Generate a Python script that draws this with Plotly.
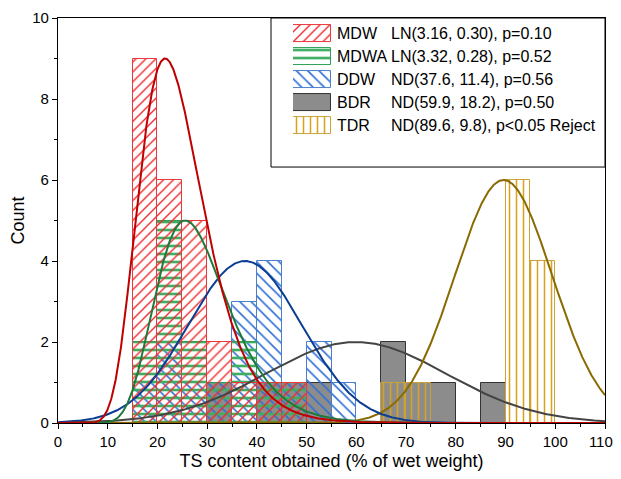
import numpy as np
import plotly.graph_objects as go

# ---------------- data ----------------
bin_centers = [17.5, 22.5, 27.5, 32.5, 37.5, 42.5, 47.5, 52.5, 57.5,
               62.5, 67.5, 72.5, 77.5, 82.5, 87.5, 92.5, 97.5]
bin_width = 5

mdw_counts  = [9, 6, 5, 2, 1, 1, 1, 0, 0, 0, 0, 0, 0, 0, 0, 0, 0]
mdwa_counts = [2, 5, 2, 1, 2, 1, 1, 0, 0, 0, 0, 0, 0, 0, 0, 0, 0]
ddw_counts  = [1, 2, 1, 1, 3, 4, 1, 2, 1, 0, 0, 0, 0, 0, 0, 0, 0]
bdr_counts  = [0, 0, 0, 1, 0, 1, 1, 1, 0, 0, 2, 1, 1, 0, 1, 0, 0]
tdr_counts  = [0, 0, 0, 0, 0, 0, 0, 0, 0, 0, 1, 1, 0, 0, 0, 6, 4]

series_names = ["MDW", "MDWA", "DDW", "BDR", "TDR"]
series_desc = ["LN(3.16, 0.30), p=0.10", "LN(3.32, 0.28), p=0.52",
               "ND(37.6, 11.4), p=0.56", "ND(59.9, 18.2), p=0.50",
               "ND(89.6, 9.8), p<0.05 Reject"]
fit_type = ["LN", "LN", "ND", "ND", "ND"]
fit_p1 = [3.16, 3.32, 37.6, 59.9, 89.6]
fit_p2 = [0.30, 0.28, 11.4, 18.2, 9.8]
curve_peak = [9.0, 5.0, 4.0, 2.0, 6.0]   # peak heights of the fitted curves

x_ticks = [0, 10, 20, 30, 40, 50, 60, 70, 80, 90, 100, 110]
x_tick_labels = ["0", "10", "20", "30", "40", "50", "60", "70", "80", "90",
                 "100", "110\u00a0\u00a0"]
y_ticks = [0, 2, 4, 6, 8, 10]

# ---------------- styles ----------------
hatch_color = ["#EE2A2E", "#3DAE62", "#2F6FD6", "#8C8C8C", "#D9A21C"]
edge_color  = ["#E8383B", "#2E9E55", "#4A7FCC", "#333333", "#C9A23A"]
curve_color = ["#C00000", "#1E7A3A", "#0B3D91", "#444444", "#8A6A00"]
pattern_shape = ["/", "-", "\\", "", "|"]
pattern_size  = [7, 8, 8, 8, 7]
pattern_solid = [0.2, 0.33, 0.2, 0.3, 0.22]
counts = [mdw_counts, mdwa_counts, ddw_counts, bdr_counts, tdr_counts]

FONT = "Liberation Sans, Arial, sans-serif"

def bar_marker(i):
    if pattern_shape[i] == "":
        return dict(color=hatch_color[i], line=dict(color=edge_color[i], width=1))
    return dict(color="rgba(0,0,0,0)",
                line=dict(color=edge_color[i], width=1),
                pattern=dict(shape=pattern_shape[i], fgcolor=hatch_color[i],
                             bgcolor="rgba(0,0,0,0)", size=pattern_size[i],
                             solidity=pattern_solid[i], fillmode="replace"))

fig = go.Figure()

# histogram bars: gray first (bottom), red last (top)
draw_order = [3, 4, 2, 1, 0]
for i in draw_order:
    y = [c if c > 0 else None for c in counts[i]]
    fig.add_trace(go.Bar(x=bin_centers, y=y, width=bin_width,
                         marker=bar_marker(i), name=series_names[i],
                         showlegend=False, hoverinfo="x+y"))

# fitted curves
xc = np.linspace(0.05, 110, 1200)
for i in [3, 4, 2, 1, 0]:
    if fit_type[i] == "LN":
        pdf = np.exp(-(np.log(xc) - fit_p1[i]) ** 2 / (2 * fit_p2[i] ** 2)) / xc
    else:
        pdf = np.exp(-(xc - fit_p1[i]) ** 2 / (2 * fit_p2[i] ** 2))
    yc = pdf / pdf.max() * curve_peak[i]
    fig.add_trace(go.Scatter(x=xc, y=yc, mode="lines",
                             line=dict(color=curve_color[i], width=2),
                             showlegend=False, hoverinfo="skip"))

# ---------------- legend (custom, patterned swatches) ----------------
rows = list(range(len(series_names)))
for i in rows:
    fig.add_trace(go.Bar(x=[1], y=[i], base=0, orientation="h", width=0.74,
                         marker=bar_marker(i), xaxis="x2", yaxis="y2",
                         showlegend=False, hoverinfo="skip"))
    fig.add_annotation(x=0.5064, y=i, xref="paper", yref="y2", text=series_names[i],
                       showarrow=False, xanchor="left", yanchor="middle",
                       font=dict(family=FONT, size=16, color="black"))
    fig.add_annotation(x=0.6045, y=i, xref="paper", yref="y2", text=series_desc[i],
                       showarrow=False, xanchor="left", yanchor="middle",
                       font=dict(family=FONT, size=16, color="black"))

fig.add_shape(type="rect", xref="paper", yref="paper", x0=0.3894, x1=1.0,
              y0=0.632, y1=1.0, line=dict(color="black", width=1))

axis_common = dict(showline=True, linecolor="black", linewidth=1.2, mirror=True,
                   ticks="outside", ticklen=5, tickwidth=1.2, tickcolor="black",
                   showgrid=False, zeroline=False, automargin=False,
                   ticklabeloverflow="allow",
                   tickfont=dict(family=FONT, size=15, color="black"))

# the page body adds an 8px offset; the figure is sized to fit the window
fig.update_layout(
    width=613, height=463,
    margin=dict(l=50, r=16, t=10, b=48, autoexpand=False),
    paper_bgcolor="white", plot_bgcolor="white",
    barmode="overlay", bargap=0,
    showlegend=False,
    xaxis=dict(range=[0, 110], tickvals=x_ticks, ticktext=x_tick_labels,
               minor=dict(dtick=5, ticks="outside", ticklen=3, tickcolor="black"),
               title=dict(text="TS content obtained (% of wet weight)",
                          font=dict(family=FONT, size=18, color="black"), standoff=14),
               **axis_common),
    yaxis=dict(range=[0, 10], tickvals=y_ticks,
               minor=dict(dtick=1, ticks="outside", ticklen=3, tickcolor="black"),
               title=dict(text="Count",
                          font=dict(family=FONT, size=18, color="black"), standoff=3),
               **axis_common),
    xaxis2=dict(domain=[0.4296, 0.4991], range=[0, 1], visible=False, fixedrange=True),
    yaxis2=dict(domain=[0.706, 0.99], range=[4.5, -0.5], visible=False,
                fixedrange=True, anchor="x2"),
)

fig.write_html("out.html")
